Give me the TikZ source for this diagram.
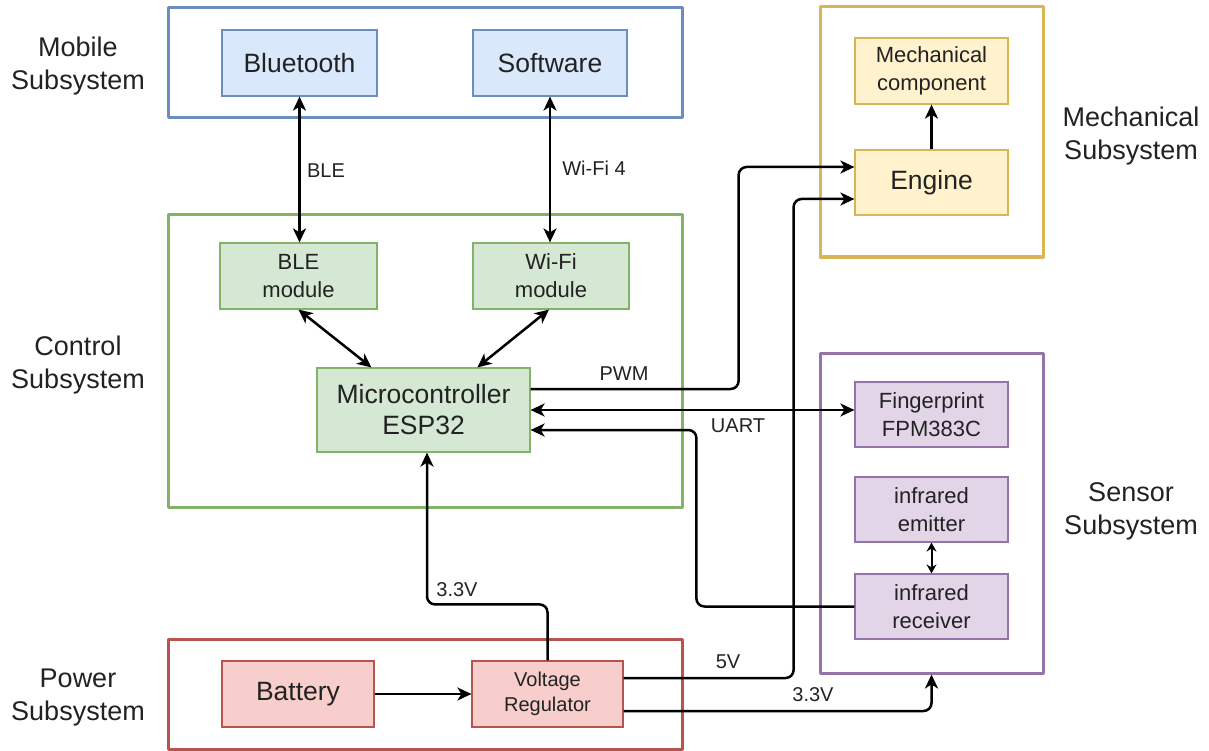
\documentclass[tikz,border=0pt]{standalone}
\usepackage{fontspec}
\setmainfont{Liberation Sans}
\usetikzlibrary{arrows.meta,calc}

\definecolor{blueS}{HTML}{6C8EBF}\definecolor{blueF}{HTML}{DAE8FC}
\definecolor{greenS}{HTML}{82B366}\definecolor{greenF}{HTML}{D5E8D4}
\definecolor{yelS}{HTML}{D6B656}\definecolor{yelF}{HTML}{FFF2CC}
\definecolor{purS}{HTML}{9673A6}\definecolor{purF}{HTML}{E1D5E7}
\definecolor{redS}{HTML}{B85450}\definecolor{redF}{HTML}{F8CECC}
\definecolor{ink}{HTML}{222222}

\tikzset{
  group/.style={draw, line width=3pt, line join=round, fill=white, inner sep=0pt},
  block/.style={draw, line width=1.2pt, inner sep=0pt, align=center, text=ink},
  big/.style={font=\fontsize{26.5}{31}\selectfont},
  mid/.style={font=\fontsize{22}{28}\selectfont},
  small/.style={font=\fontsize{20}{25}\selectfont},
  caption/.style={align=center, text=ink, font=\fontsize{27}{33}\selectfont},
  elabel/.style={text=ink, inner sep=0pt, font=\fontsize{20}{24}\selectfont},
  arr/.style={line width=2.5pt, rounded corners=8pt, -{Stealth[length=14pt,width=13pt,inset=4pt]}},
  biarr/.style={line width=2.5pt, {Stealth[length=14pt,width=13pt,inset=4pt]}-{Stealth[length=14pt,width=13pt,inset=4pt]}},
  tinyarr/.style={line width=2pt, {Stealth[length=9pt,width=10pt,inset=3pt]}-{Stealth[length=9pt,width=10pt,inset=3pt]}},
}

\begin{document}
\begin{tikzpicture}[x=1pt,y=-1pt]
\useasboundingbox (0,0) rectangle (1209,751);

% subsystem frames
\node[group, draw=blueS,  minimum width=514pt, minimum height=110pt] (mob)  at (425,63) {};
\node[group, draw=greenS, minimum width=514pt, minimum height=292pt] (ctl)  at (425,361) {};
\node[group, draw=redS,   minimum width=514pt, minimum height=110pt] (pwr)  at (425,694) {};
\node[group, draw=yelS,   minimum width=223pt, minimum height=250pt] (mech) at (931.5,132) {};
\node[group, draw=purS,   minimum width=223pt, minimum height=320pt] (sens) at (931.5,513) {};

% subsystem captions
\node[caption] (capmob)  at (78,66)    {Mobile\\Subsystem};
\node[caption] (capctl)  at (78,365)   {Control\\Subsystem};
\node[caption] (cappwr)  at (78,698)   {Power\\Subsystem};
\node[caption] (capmech) at (1131,136) {Mechanical\\Subsystem};
\node[caption] (capsens) at (1131,511) {Sensor\\Subsystem};

% mobile blocks
\node[block, big, draw=blueS, fill=blueF, minimum width=155pt, minimum height=66pt] (bt) at (299.5,63) {Bluetooth};
\node[block, big, draw=blueS, fill=blueF, minimum width=154pt, minimum height=66pt] (sw) at (550,63) {Software};

% control blocks
\node[block, mid, draw=greenS, fill=greenF, minimum width=157pt, minimum height=66pt] (ble)  at (298.5,276) {BLE\\module};
\node[block, mid, draw=greenS, fill=greenF, minimum width=156pt, minimum height=66pt] (wifi) at (551,276) {Wi-Fi\\module};
\node[block, big, draw=greenS, fill=greenF, minimum width=213pt, minimum height=84pt] (mcu)  at (423.5,410) {Microcontroller\\ESP32};

% mechanical blocks
\node[block, mid, draw=yelS, fill=yelF, minimum width=153pt, minimum height=66pt] (mc)  at (931.5,71) {Mechanical\\component};
\node[block, big, draw=yelS, fill=yelF, minimum width=153pt, minimum height=65pt] (eng) at (931.5,182.5) {Engine};

% sensor blocks
\node[block, mid, draw=purS, fill=purF, minimum width=153pt, minimum height=65pt] (fp)  at (931.5,414.5) {Fingerprint\\FPM383C};
\node[block, mid, draw=purS, fill=purF, minimum width=153pt, minimum height=65pt] (ire) at (931.5,509.5) {infrared\\emitter};
\node[block, mid, draw=purS, fill=purF, minimum width=153pt, minimum height=65pt] (irr) at (931.5,606.5) {infrared\\receiver};

% power blocks
\node[block, big, draw=redS, fill=redF, minimum width=152pt, minimum height=66pt] (bat) at (298,694) {Battery};
\node[block, small, draw=redS, fill=redF, minimum width=151pt, minimum height=66pt] (vr) at (547.5,694) {Voltage\\Regulator};

% wireless links
\draw[biarr] (bt.south) -- (bt.south |- ble.north);
\draw[biarr] (sw.south) -- (sw.south |- wifi.north);
\node[elabel] (lble)  at (326,171) {BLE};
\node[elabel] (lwifi) at (594,168) {Wi-Fi 4};

% modules to microcontroller
\draw[biarr] (ble.south) -- ($(mcu.north west)+(55,0)$);
\draw[biarr] ($(wifi.south)+(-2,0)$) -- ($(mcu.north west)+(161,0)$);

% PWM to engine
\draw[arr] ($(mcu.east)+(0,-21)$) -- ++(208,0) |- ($(eng.west)+(0,-15.5)$);
\node[elabel] (lpwm) at (624,374) {PWM};

% UART with fingerprint sensor
\draw[biarr] (mcu.east) -- (mcu.east -| fp.west);
\node[elabel] (luart) at (738,426) {UART};

% infrared receiver back to microcontroller
\draw[arr] (irr.west) -- ++(-158,0) |- ($(mcu.east)+(0,20)$);

% IR pair
\draw[tinyarr] (ire.south) -- (irr.north);

% engine drives mechanical component
\draw[arr] (eng.north) -- (mc.south);

% power distribution
\draw[arr] (bat.east) -- (vr.west);
\draw[arr] ($(vr.east)+(0,-16)$) -- ++(170,0) |- ($(eng.west)+(0,16.5)$);
\node[elabel] (l5v) at (728,662) {5V};
\draw[arr] ($(vr.east)+(0,17)$) -| (sens.south);
\node[elabel] (l33a) at (813,695) {3.3V};
\draw[arr] (vr.north) -- ++(0,-56) -| ($(mcu.south)+(3.5,0)$);
\node[elabel] (l33b) at (457,590) {3.3V};
\end{tikzpicture}
\end{document}
